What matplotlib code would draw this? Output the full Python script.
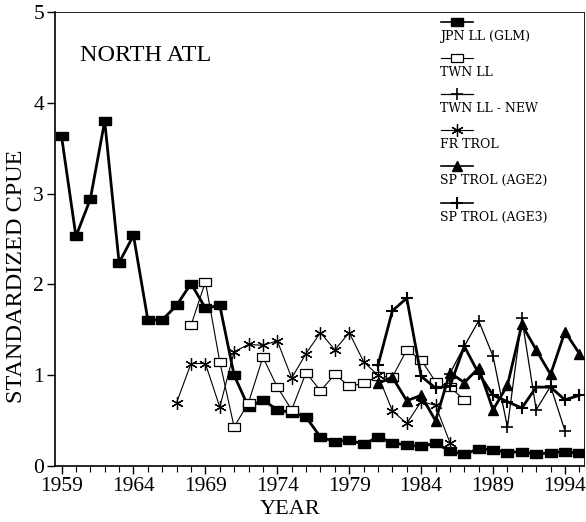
import numpy as np
import matplotlib.pyplot as plt
from matplotlib.lines import Line2D

plt.rcParams['font.family'] = ['Liberation Serif', 'DejaVu Serif']

# standardized CPUE indices, North Atlantic
yr_jpn = np.arange(1959, 1996)
cpue_jpn = [3.63, 2.53, 2.94, 3.80, 2.24, 2.54, 1.61, 1.61, 1.77, 2.01,
            1.74, 1.77, 1.00, 0.65, 0.73, 0.62, 0.59, 0.54, 0.32, 0.27,
            0.29, 0.24, 0.32, 0.26, 0.23, 0.22, 0.25, 0.17, 0.13, 0.19,
            0.18, 0.15, 0.16, 0.13, 0.15, 0.16, 0.14]

yr_twn = np.arange(1968, 1988)
cpue_twn = [1.55, 2.03, 1.15, 0.43, 0.70, 1.20, 0.87, 0.62, 1.03, 0.83,
            1.01, 0.88, 0.91, 0.99, 0.98, 1.28, 1.17, 0.93, 0.87, 0.73]

yr_twn_new = np.arange(1986, 1995)
cpue_twn_new = [1.02, 1.32, 1.60, 1.21, 0.43, 1.63, 0.62, 0.88, 0.39]

yr_fr = np.arange(1967, 1987)
cpue_fr = [0.70, 1.13, 1.13, 0.65, 1.26, 1.34, 1.33, 1.38, 0.97, 1.24,
           1.47, 1.28, 1.47, 1.15, 1.00, 0.61, 0.47, 0.71, 0.67, 0.26]

yr_sp = np.arange(1981, 1996)
cpue_sp2 = [0.91, 0.98, 0.72, 0.78, 0.50, 1.03, 0.92, 1.08, 0.62, 0.89,
            1.56, 1.28, 1.01, 1.48, 1.24]
cpue_sp3 = [1.11, 1.71, 1.85, 0.99, 0.86, 0.88, 1.32, 1.02, 0.78, 0.71,
            0.64, 0.87, 0.87, 0.73, 0.78]

# flat box marker (wider than tall)
box = [(-1, -0.68), (1, -0.68), (1, 0.68), (-1, 0.68), (-1, -0.68)]

series = [
    ("JPN LL (GLM)", yr_jpn, cpue_jpn,
     dict(marker=box, ms=8, mfc='k', mec='k', lw=2.0)),
    ("TWN LL", yr_twn, cpue_twn,
     dict(marker=box, ms=8, mfc='white', mec='k', mew=0.9, lw=0.8)),
    ("TWN LL - NEW", yr_twn_new, cpue_twn_new,
     dict(marker='+', ms=9, mew=1.2, lw=0.9)),
    ("FR TROL", yr_fr, cpue_fr,
     dict(marker=(6, 2, 0), ms=9, mew=0.9, lw=0.8)),
    ("SP TROL (AGE2)", yr_sp, cpue_sp2,
     dict(marker='^', ms=7.5, mfc='k', mec='k', lw=2.0)),
    ("SP TROL (AGE3)", yr_sp, cpue_sp3,
     dict(marker='+', ms=9, mew=1.5, lw=2.0)),
]

fig = plt.figure(figsize=(5.86, 5.22), dpi=100)
ax = fig.add_axes([0.094, 0.107, 0.902, 0.870])

for name, x, y, st in series:
    ax.plot(x, y, color='k', **st)

ax.set_xlim(1958.55, 1995.3)
ax.set_ylim(0, 5)
ax.set_xticks(np.arange(1959, 1996, 5))
ax.set_xticks(np.arange(1959, 1996), minor=True)
ax.set_yticks(np.arange(0, 6))
ax.tick_params(direction='out', labelsize=15.5, length=6, width=1)
ax.tick_params(which='minor', direction='out', length=4, width=0.8)
ax.tick_params(axis='y', pad=2)
ax.tick_params(axis='x', pad=2)
for s in ['top', 'right']:
    ax.spines[s].set_linewidth(0.6)
    ax.spines[s].set_linestyle((0, (5, 1)))
ax.spines['left'].set_linewidth(1.2)
ax.spines['bottom'].set_linewidth(1.2)

ax.set_xlabel("YEAR", fontsize=16)
ax.xaxis.set_label_coords(0.444, -0.075)
ax.set_ylabel("STANDARDIZED CPUE", fontsize=17.5)
ax.yaxis.set_label_coords(-0.054, 0.418)
ax.text(0.047, 0.905, "NORTH ATL", transform=ax.transAxes, fontsize=17.5,
        va='center')

# legend: one marker sample stacked above each label
for i, (name, x, y, st) in enumerate(series):
    yy = 0.978 - i * 0.0795
    kw = dict(st)
    kw['lw'] = min(kw['lw'], 1.2)
    ax.add_line(Line2D([0.731, 0.760, 0.790], [yy, yy, yy],
                       transform=ax.transAxes, color='k', clip_on=False,
                       markevery=[1], **kw))
    ax.text(0.729, yy - 0.032, name, transform=ax.transAxes, fontsize=9,
            family='DejaVu Serif', va='center', ha='left')

fig.savefig("out.png", dpi=100)
